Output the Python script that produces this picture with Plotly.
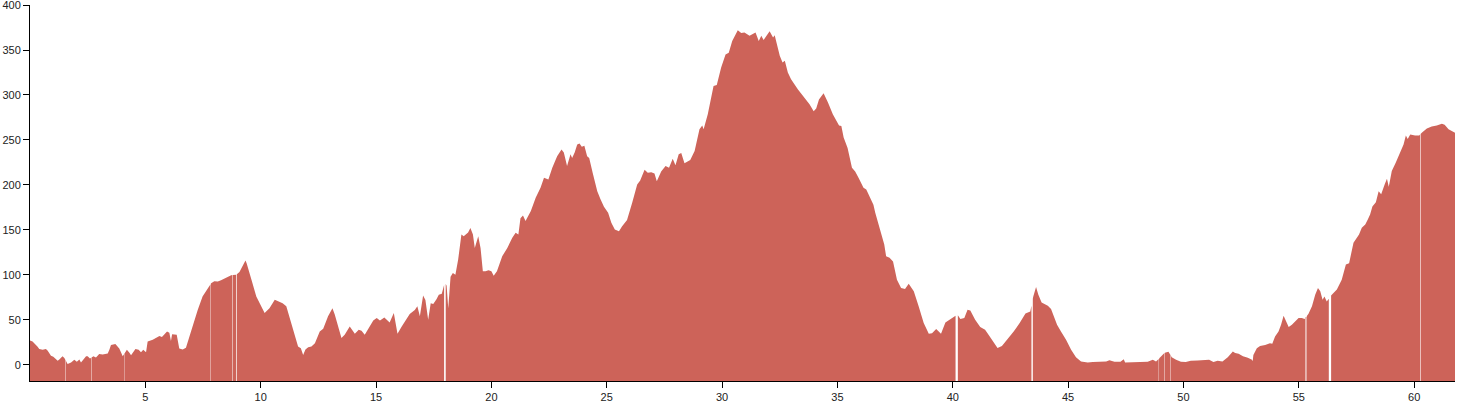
import numpy as np
import plotly.graph_objects as go

# distance along route (km) and elevation (m)
DIST = [0.00, 0.11, 0.33, 0.40, 0.55, 0.69, 0.76, 0.91, 1.01, 1.13, 1.20, 1.27, 1.41, 1.49, 1.63, 1.78, 1.92, 2.03,
        2.14, 2.21, 2.36, 2.43, 2.50, 2.60, 2.75, 2.86, 2.94, 3.00, 3.15, 3.27, 3.37, 3.44, 3.51, 3.70, 3.87, 4.02,
        4.13, 4.20, 4.31, 4.38, 4.57, 4.71, 4.81, 4.91, 5.03, 5.10, 5.32, 5.46, 5.61, 5.72, 5.82, 5.94, 6.04, 6.11,
        6.16, 6.26, 6.36, 6.47, 6.62, 6.76, 6.91, 7.05, 7.27, 7.48, 7.63, 7.85, 7.99, 8.14, 8.28, 8.50, 8.72, 8.93,
        9.08, 9.34, 9.39, 9.60, 9.81, 10.17, 10.38, 10.61, 10.82, 10.95, 11.11, 11.40, 11.62, 11.74, 11.84, 11.94,
        12.06, 12.20, 12.35, 12.56, 12.71, 12.92, 13.11, 13.21, 13.36, 13.50, 13.64, 13.86, 13.96, 14.08, 14.25,
        14.37, 14.51, 14.65, 14.88, 15.03, 15.17, 15.36, 15.46, 15.59, 15.77, 15.93, 16.10, 16.25, 16.46, 16.68,
        16.79, 16.90, 17.04, 17.14, 17.26, 17.37, 17.48, 17.62, 17.72, 17.85, 17.98, 18.06, 18.13, 18.23, 18.33,
        18.44, 18.56, 18.70, 18.80, 18.90, 18.99, 19.09, 19.20, 19.28, 19.43, 19.53, 19.63, 19.74, 19.88, 20.00,
        20.10, 20.24, 20.47, 20.69, 20.90, 21.05, 21.17, 21.26, 21.37, 21.48, 21.71, 21.92, 22.13, 22.28, 22.47,
        22.64, 22.85, 23.04, 23.14, 23.28, 23.43, 23.50, 23.61, 23.72, 23.82, 23.92, 24.03, 24.15, 24.24, 24.39,
        24.59, 24.73, 24.88, 25.06, 25.20, 25.35, 25.53, 25.66, 25.88, 26.10, 26.32, 26.45, 26.64, 26.78, 26.93,
        27.07, 27.17, 27.36, 27.55, 27.70, 27.86, 27.98, 28.12, 28.23, 28.37, 28.62, 28.81, 29.02, 29.14, 29.20,
        29.38, 29.63, 29.77, 29.96, 30.15, 30.29, 30.44, 30.68, 30.83, 30.97, 31.19, 31.45, 31.59, 31.70, 31.80,
        32.06, 32.21, 32.28, 32.50, 32.62, 32.72, 32.85, 32.99, 33.29, 33.58, 33.79, 33.97, 34.08, 34.20, 34.40,
        34.59, 34.80, 35.07, 35.17, 35.27, 35.44, 35.63, 35.77, 35.92, 36.13, 36.25, 36.43, 36.56, 36.64, 36.85,
        37.03, 37.11, 37.26, 37.41, 37.58, 37.76, 37.93, 38.09, 38.31, 38.52, 38.74, 38.96, 39.10, 39.28, 39.49,
        39.68, 39.90, 40.11, 40.17, 40.33, 40.50, 40.64, 40.76, 40.97, 41.19, 41.40, 41.55, 41.74, 41.94, 42.13,
        42.35, 42.64, 42.90, 43.15, 43.36, 43.49, 43.61, 43.71, 43.85, 43.99, 44.12, 44.26, 44.38, 44.52, 44.69,
        44.91, 45.13, 45.34, 45.56, 45.85, 46.07, 46.36, 46.65, 46.79, 47.01, 47.27, 47.41, 47.47, 47.80, 48.16,
        48.45, 48.67, 48.81, 48.96, 49.15, 49.35, 49.49, 49.68, 49.89, 50.10, 50.32, 50.61, 50.90, 51.11, 51.30,
        51.48, 51.69, 51.92, 52.14, 52.24, 52.39, 52.58, 52.79, 52.97, 53.00, 53.03, 53.18, 53.32, 53.54, 53.75,
        53.85, 53.97, 54.12, 54.23, 54.34, 54.41, 54.56, 54.70, 54.84, 54.99, 55.13, 55.25, 55.42, 55.57, 55.71,
        55.83, 55.93, 56.03, 56.11, 56.21, 56.43, 56.65, 56.86, 57.04, 57.18, 57.37, 57.51, 57.61, 57.73, 57.88,
        57.99, 58.09, 58.19, 58.34, 58.46, 58.57, 58.72, 58.82, 58.90, 59.03, 59.20, 59.39, 59.54, 59.64, 59.72,
        59.83, 60.04, 60.22, 60.33, 60.55, 60.76, 60.98, 61.20, 61.32, 61.49, 61.63, 61.77]

ELEV = [27, 26, 20, 17.5, 16.7, 17.5, 16, 10, 9, 6, 4.5, 6, 9.5, 7.5, 1, 2.5, 5.5, 3.5,
        6, 2.5, 7, 9.5, 9.5, 7, 9.5, 8, 10.5, 12, 11.5, 12.5, 12.5, 16.7, 22, 23, 18, 9.5,
        14, 16.7, 13.5, 10.5, 17.5, 16.7, 14, 16.7, 14, 26, 28, 30, 32, 31, 33.5, 37, 35.6, 26.4,
        34, 33.5, 33.5, 18, 17, 19, 31.5, 44, 61, 76, 81.5, 90.7, 93, 92.5, 94, 97.3, 99.7, 100,
        103.3, 116, 113, 94.7, 76, 57.5, 63, 72.4, 70.5, 68.5, 65, 41, 20.4, 18.5, 11, 17,
        19.5, 20.4, 24, 37, 40, 54, 63, 56, 42.7, 29.7, 33.4, 42.7, 39, 34.5, 39,
        38, 33.4, 39, 49.4, 52, 49.4, 52.6, 50, 47, 57.6, 34.5, 42, 48, 56.6, 61,
        65, 54, 77, 72, 50, 68.5, 67.5, 73, 78, 79, 91.7, 88, 63, 98, 102,
        100, 117, 145, 143, 145, 147, 152, 145, 130, 143, 130, 104, 104, 105, 104,
        99, 104, 120.7, 130, 141, 146.7, 145, 163, 166, 160, 171, 185.7, 197, 208, 206,
        219, 232, 239.5, 236, 221, 234, 230, 236, 245, 246, 242.5, 243.5, 232, 230, 213.6,
        193, 184, 175.7, 169, 158, 150.4, 148.5, 153.7, 161, 180, 200.6, 205, 217, 213.6, 214,
        212.6, 204, 215, 221, 219, 229, 222, 234, 235.6, 224, 227.6, 237.7, 262, 266, 262,
        278.6, 310, 311, 330.6, 345, 347, 360, 372, 369, 369.5, 366, 369.5, 360, 366, 361,
        371, 364, 366.5, 343.5, 336, 338, 325, 317.5, 306, 297, 289.7, 282, 285, 295, 302,
        291.6, 278.6, 266, 265.5, 252.6, 241, 219, 215, 207.6, 197, 194.8, 184, 178, 169, 148.5,
        133.7, 120.7, 119, 115, 94.7, 85.4, 84.4, 90, 81.7, 65, 46.4, 34.5, 35, 39.7, 34.5,
        47, 51, 54, 56.8, 51, 52, 61.3, 60.5, 50, 42, 39, 33.4, 26, 18.6, 21,
        27.8, 37, 46.4, 57, 59.4, 76, 86.5, 78, 69.4, 67, 65.7, 62, 54, 44.6, 37,
        27.8, 16.7, 8.5, 3.7, 2.6, 3, 3.3, 3.7, 5.2, 3.3, 3.3, 6.3, 2.6, 2.6, 2.6,
        3.3, 5.6, 3.7, 7.4, 13, 14.5, 8.5, 5.6, 3.3, 3, 4.5, 4.8, 5.2, 5.6, 3,
        4.5, 3.7, 8.5, 14.8, 13, 12.2, 9.6, 7.8, 5.6, 4, 11, 18.5, 21, 22, 24,
        23.4, 31.6, 37, 44.6, 54.6, 50, 42, 44.6, 48, 52, 52, 51, 56.8, 65, 78,
        85.4, 81.7, 72.4, 76, 70.5, 78, 83.6, 94.7, 111.4, 113, 135.6, 141, 145, 152.3, 156,
        161.6, 167, 176, 180.7, 193, 189.5, 200.6, 207, 198, 215.4, 224.7, 236, 245, 255, 251,
        256, 255, 255, 258, 262.6, 265, 266, 268, 267, 262, 260, 258]

# breaks in the recorded track (km start, km end)
GAPS = [(1.535, 1.55), (2.655, 2.67), (4.075, 4.09), (7.825, 7.84), (8.775, 8.795), (8.935, 8.965),
        (17.95, 18.02), (40.12, 40.22), (43.41, 43.47), (48.925, 48.94), (49.175, 49.19),
        (49.435, 49.45), (55.275, 55.295), (55.335, 55.355), (56.30, 56.40), (60.255, 60.28)]

X_TICKS = [5, 10, 15, 20, 25, 30, 35, 40, 45, 50, 55, 60]
Y_TICKS = [0, 50, 100, 150, 200, 250, 300, 350, 400]

Y_MIN, Y_MAX = -18, 400.05
FILL = "rgb(205,99,89)"

dist = np.array(DIST, dtype=float)
elev = np.array(ELEV, dtype=float)

edges = [dist[0]]
for a, b in GAPS:
    edges += [a, b]
edges.append(dist[-1])

fig = go.Figure()
for i in range(0, len(edges), 2):
    a, b = edges[i], edges[i + 1]
    inner = dist[(dist > a) & (dist < b)]
    xs = np.concatenate([[a], inner, [b]])
    ys = np.interp(xs, dist, elev)
    px = list(xs) + [b, a]
    py = list(ys) + [Y_MIN, Y_MIN]
    fig.add_trace(go.Scatter(x=px, y=py, mode="lines", fill="toself",
                             fillcolor=FILL, line=dict(width=0, color=FILL),
                             hoverinfo="skip", showlegend=False))

axis_font = dict(family="Liberation Sans, Arial, sans-serif", size=11, color="#222")
axis_common = dict(ticks="outside", ticklen=6, tickcolor="black", showline=True,
                   linecolor="black", linewidth=1, showgrid=False, zeroline=False,
                   tickfont=axis_font, automargin=False, ticklabeloverflow="allow")
fig.update_layout(
    width=1457, height=405,
    margin=dict(l=30, r=2, t=5, b=24, autoexpand=False),
    paper_bgcolor="white", plot_bgcolor="white",
    showlegend=False,
    xaxis=dict(range=[0, dist[-1]], tickvals=X_TICKS, **axis_common),
    yaxis=dict(range=[Y_MIN, Y_MAX], tickvals=Y_TICKS, **axis_common),
)
fig.write_html("out.html", config={"displayModeBar": False},
               post_script="document.body.style.margin='0px';document.body.style.overflow='hidden';")
